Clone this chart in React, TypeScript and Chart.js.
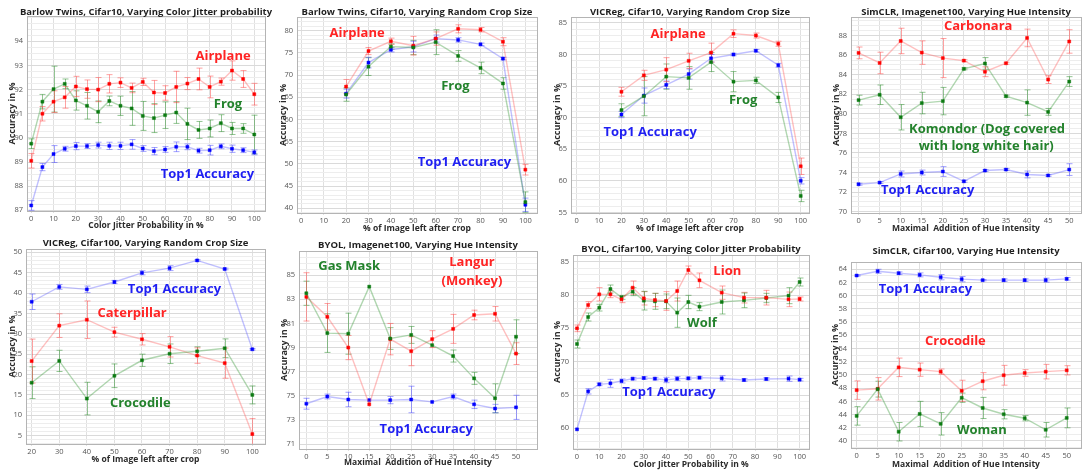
import React, { useEffect, useRef } from 'react';
import { Chart, registerables } from 'chart.js';

Chart.register(...registerables);

// ---------- Barlow Twins, Cifar10, colour jitter probability ----------
const btJitterX = [0, 5, 10, 15, 20, 25, 30, 35, 40, 45, 50, 55, 60, 65, 70, 75, 80, 85, 90, 95, 100];
const btJitterAirplane = [89.05, 91.0, 91.5, 91.68, 92.13, 92.02, 92.0, 92.24, 92.29, 92.07, 92.32, 91.88, 91.86, 92.11, 92.25, 92.44, 92.11, 92.33, 92.79, 92.44, 91.81];
const btJitterAirplaneErr = [0.3, 0.3, 0.45, 0.45, 0.42, 0.38, 0.5, 0.38, 0.2, 0.2, 0.15, 0.5, 0.3, 0.65, 0.25, 0.45, 0.45, 0.15, 0.4, 0.35, 0.45];
const btJitterFrog = [89.76, 91.5, 92.02, 92.24, 91.55, 91.33, 91.08, 91.53, 91.33, 91.22, 90.91, 90.82, 90.94, 91.05, 90.58, 90.33, 90.39, 90.61, 90.39, 90.39, 90.14];
const btJitterFrogErr = [0.2, 0.3, 0.95, 0.2, 0.4, 0.55, 0.45, 0.2, 0.4, 0.7, 0.6, 0.6, 0.55, 0.45, 0.65, 0.35, 0.35, 0.35, 0.25, 0.2, 0.8];
const btJitterTop1 = [87.2, 88.79, 89.33, 89.55, 89.66, 89.66, 89.7, 89.67, 89.67, 89.73, 89.56, 89.45, 89.52, 89.63, 89.63, 89.47, 89.49, 89.65, 89.55, 89.49, 89.4];
const btJitterTop1Err = [0.2, 0.15, 0.35, 0.1, 0.15, 0.1, 0.12, 0.15, 0.15, 0.2, 0.12, 0.15, 0.12, 0.2, 0.12, 0.1, 0.2, 0.1, 0.15, 0.1, 0.1];
const btJitterXTicks = [0, 10, 20, 30, 40, 50, 60, 70, 80, 90, 100];
const btJitterYTicks = [87, 88, 89, 90, 91, 92, 93, 94];

// ---------- Barlow Twins, Cifar10, random crop size ----------
const btCropX = [20, 30, 40, 50, 60, 70, 80, 90, 100];
const btCropAirplane = [67.4, 75.4, 77.6, 76.6, 78.2, 80.4, 80.2, 77.5, 48.7];
const btCropAirplaneErr = [1.6, 0.8, 0.7, 2.1, 1.5, 0.9, 0.5, 0.9, 1.2];
const btCropFrog = [65.6, 71.9, 76.4, 76.2, 77.4, 74.3, 71.6, 68.1, 41.4];
const btCropFrogErr = [1.5, 2.0, 0.6, 1.6, 2.8, 1.2, 1.3, 1.3, 2.3];
const btCropTop1 = [65.8, 72.8, 75.7, 76.4, 78.2, 77.9, 76.9, 73.7, 40.8];
const btCropTop1Err = [1.0, 1.2, 0.5, 1.2, 0.8, 0.5, 0.3, 0.3, 1.5];
const btCropXTicks = [0, 10, 20, 30, 40, 50, 60, 70, 80, 90, 100];
const btCropYTicks = [40, 45, 50, 55, 60, 65, 70, 75, 80];

// ---------- VICReg, Cifar10, random crop size ----------
const vicCropX = [20, 30, 40, 50, 60, 70, 80, 90, 100];
const vicCropAirplane = [74.1, 76.7, 77.6, 79.0, 80.3, 83.3, 83.0, 81.7, 62.3];
const vicCropAirplaneErr = [0.7, 0.8, 1.9, 1.2, 1.5, 0.6, 0.4, 0.4, 1.3];
const vicCropFrog = [71.2, 73.4, 76.5, 76.3, 78.8, 75.7, 75.9, 73.2, 57.6];
const vicCropFrogErr = [1.0, 3.1, 2.0, 1.8, 1.5, 1.6, 0.5, 0.8, 0.9];
const vicCropTop1 = [70.5, 73.5, 75.2, 76.9, 79.4, 80.0, 80.6, 78.3, 60.0];
const vicCropTop1Err = [0.5, 1.2, 0.6, 0.8, 0.6, 0.2, 0.2, 0.3, 0.5];
const vicCropXTicks = [0, 10, 20, 30, 40, 50, 60, 70, 80, 90, 100];
const vicCropYTicks = [55, 60, 65, 70, 75, 80, 85];

// ---------- SimCLR, Imagenet100, hue intensity ----------
const simHueX = [0, 5, 10, 15, 20, 25, 30, 35, 40, 45, 50];
const simHueCarbonara = [86.23, 85.2, 87.45, 86.26, 85.7, 85.44, 84.3, 85.17, 87.76, 83.5, 87.4];
const simHueCarbonaraErr = [0.6, 1.1, 1.3, 1.2, 2.0, 0.1, 0.5, 0.1, 0.9, 0.4, 1.2];
const simHueKomondor = [81.4, 81.95, 79.65, 81.1, 81.3, 84.6, 85.15, 81.8, 81.15, 80.2, 83.3];
const simHueKomondorErr = [0.5, 1.0, 1.3, 1.1, 1.4, 0.1, 0.6, 0.1, 1.3, 0.35, 0.5];
const simHueTop1 = [72.8, 72.97, 73.85, 74.0, 74.1, 73.1, 74.2, 74.3, 73.8, 73.7, 74.3];
const simHueTop1Err = [0.1, 0.1, 0.3, 0.25, 0.5, 0.1, 0.1, 0.1, 0.35, 0.1, 0.6];
const simHueXTicks = [0, 5, 10, 15, 20, 25, 30, 35, 40, 45, 50];
const simHueYTicks = [70, 72, 74, 76, 78, 80, 82, 84, 86, 88];

// ---------- VICReg, Cifar100, random crop size ----------
const vic100CropX = [20, 30, 40, 50, 60, 70, 80, 90, 100];
const vic100CropTop1 = [37.86, 41.5, 40.9, 42.7, 44.95, 46.1, 48.0, 45.9, 26.2];
const vic100CropTop1Err = [1.9, 0.6, 0.8, 0.4, 0.5, 0.6, 0.2, 0.2, 0.2];
const vic100CropCaterpillar = [23.3, 32.0, 33.45, 30.4, 28.65, 26.8, 24.65, 22.8, 5.4];
const vic100CropCaterpillarErr = [5.4, 2.9, 4.6, 1.2, 1.4, 2.5, 1.9, 3.7, 3.8];
const vic100CropCrocodile = [18.0, 23.35, 14.1, 19.7, 23.5, 25.1, 25.7, 26.45, 15.0];
const vic100CropCrocodileErr = [3.9, 2.6, 4.0, 2.9, 1.5, 2.4, 1.1, 2.3, 2.2];
const vic100CropXTicks = [20, 30, 40, 50, 60, 70, 80, 90, 100];
const vic100CropYTicks = [5, 10, 15, 20, 25, 30, 35, 40, 45, 50];

// ---------- BYOL, Imagenet100, hue intensity ----------
const byolHueX = [0, 5, 10, 15, 20, 25, 30, 35, 40, 45, 50];
const byolHueGasMask = [83.5, 80.2, 80.15, 84.05, 79.75, 80.05, 79.2, 78.3, 76.45, 74.8, 79.9];
const byolHueGasMaskErr = [1.0, 1.6, 1.7, 0.0, 0.9, 0.7, 0.0, 0.5, 0.5, 1.2, 1.4];
const byolHueLangur = [83.2, 81.55, 79.0, 74.3, 79.7, 78.7, 79.7, 80.55, 81.7, 81.8, 78.5];
const byolHueLangurErr = [2.0, 1.1, 1.0, 0.0, 1.3, 1.2, 0.7, 1.2, 0.4, 0.6, 0.9];
const byolHueTop1 = [74.35, 74.95, 74.7, 74.65, 74.65, 74.7, 74.5, 74.95, 74.3, 73.95, 74.05];
const byolHueTop1Err = [0.45, 0.2, 0.6, 0.0, 0.3, 1.1, 0.0, 0.2, 0.35, 0.35, 1.0];
const byolHueXTicks = [0, 5, 10, 15, 20, 25, 30, 35, 40, 45, 50];
const byolHueYTicks = [71, 73, 75, 77, 79, 81, 83, 85];

// ---------- BYOL, Cifar100, colour jitter probability ----------
const byolJitterX = [0, 5, 10, 15, 20, 25, 30, 35, 40, 45, 50, 55, 65, 75, 85, 95, 100];
const byolJitterLion = [75.0, 78.5, 80.1, 80.1, 79.35, 81.1, 79.5, 79.25, 79.1, 80.6, 83.75, 82.2, 80.35, 79.6, 79.6, 79.35, 79.4];
const byolJitterLionErr = [0.5, 0.5, 1.0, 0.5, 0.5, 1.0, 1.0, 1.0, 1.4, 1.5, 0.6, 1.1, 1.0, 0.8, 1.1, 1.1, 0.3];
const byolJitterWolf = [72.65, 76.7, 78.1, 80.9, 79.65, 80.5, 79.15, 79.05, 79.05, 77.35, 78.95, 78.25, 78.95, 79.2, 79.55, 79.9, 81.95];
const byolJitterWolfErr = [0.6, 0.6, 0.5, 0.6, 0.3, 0.6, 1.4, 1.2, 1.1, 2.2, 1.0, 0.6, 1.8, 1.1, 0.7, 1.2, 0.6];
const byolJitterTop1 = [59.85, 65.55, 66.6, 66.75, 67.1, 67.45, 67.55, 67.45, 67.25, 67.45, 67.5, 67.6, 67.5, 67.25, 67.4, 67.45, 67.3];
const byolJitterTop1Err = [0.0, 0.4, 0.2, 0.6, 0.3, 0.2, 0.2, 0.2, 0.4, 0.3, 0.2, 0.2, 0.4, 0.2, 0.2, 0.4, 0.2];
const byolJitterXTicks = [0, 10, 20, 30, 40, 50, 60, 70, 80, 90, 100];
const byolJitterYTicks = [60, 65, 70, 75, 80, 85];

// ---------- SimCLR, Cifar100, hue intensity ----------
const sim100HueX = [0, 5, 10, 15, 20, 25, 30, 35, 40, 45, 50];
const sim100HueTop1 = [65.05, 65.7, 65.4, 65.15, 64.8, 64.5, 64.35, 64.35, 64.35, 64.35, 64.55];
const sim100HueTop1Err = [0.1, 0.3, 0.2, 0.3, 0.4, 0.4, 0.1, 0.2, 0.2, 0.3, 0.2];
const sim100HueCrocodile = [47.7, 47.9, 51.15, 50.8, 50.5, 47.6, 49.05, 49.95, 50.3, 50.5, 50.7];
const sim100HueCrocodileErr = [1.4, 1.7, 1.4, 1.0, 0.4, 1.6, 1.3, 1.5, 0.5, 1.1, 0.7];
const sim100HueWoman = [43.8, 47.85, 41.4, 44.1, 42.6, 46.55, 45.0, 44.05, 43.45, 41.7, 43.5];
const sim100HueWomanErr = [1.4, 1.2, 1.4, 1.9, 1.7, 0.7, 1.6, 0.7, 0.4, 1.1, 1.5];
const sim100HueXTicks = [0, 5, 10, 15, 20, 25, 30, 35, 40, 45, 50];
const sim100HueYTicks = [40, 42, 44, 46, 48, 50, 52, 54, 56, 58, 60, 62, 64, 66];
const sim100HueYTickText = ['40', '42', '44', '46', '48', '50', '52', '54', '56', '56', '58', '60', '62', '64'];

// ---------- colours ----------
const RED = { mark: '#ff0000', line: 'rgba(255,90,90,0.38)', bar: 'rgba(255,70,70,0.5)', text: '#ff2424' };
const GREEN = { mark: '#0c7a12', line: 'rgba(50,150,50,0.38)', bar: 'rgba(40,140,40,0.5)', text: '#23822c' };
const BLUE = { mark: '#0000ff', line: 'rgba(90,90,255,0.38)', bar: 'rgba(70,70,255,0.5)', text: '#1f1ff2' };

type Palette = typeof RED;
interface Series { values: number[]; err: number[]; pal: Palette }
interface Note { text: string; x: number; y: number; pal: Palette }
interface Panel {
  title: string;
  xTitle: string;
  xs: number[];
  series: Series[];
  xTicks: number[];
  yTicks: number[];
  yTickText?: string[];
  yMinor: number;
  xMin: number; xMax: number; yMin: number; yMax: number;
  left: number; top: number; bottom: number;
  titleY: number; yTitleX: number; xTitleY: number;
  notes: Note[];
}

const ACC = 'Accuracy in %';

const panels: Panel[] = [
  {
    title: 'Barlow Twins, Cifar10, Varying Color Jitter probability', xTitle: 'Color Jitter Probability in %',
    xs: btJitterX,
    series: [
      { values: btJitterFrog, err: btJitterFrogErr, pal: GREEN },
      { values: btJitterAirplane, err: btJitterAirplaneErr, pal: RED },
      { values: btJitterTop1, err: btJitterTop1Err, pal: BLUE },
    ],
    xTicks: btJitterXTicks, yTicks: btJitterYTicks, yMinor: 0.25,
    xMin: -1.9, xMax: 104.8, yMin: 86.97, yMax: 95.05,
    left: 27, top: 16, bottom: 211, titleY: 12, yTitleX: 12, xTitleY: 226,
    notes: [
      { text: 'Airplane', x: 86, y: 93.4, pal: RED },
      { text: 'Frog', x: 88.2, y: 91.4, pal: GREEN },
      { text: 'Top1 Accuracy', x: 79, y: 88.5, pal: BLUE },
    ],
  },
  {
    title: 'Barlow Twins, Cifar10, Varying Random Crop Size', xTitle: '% of Image left after crop',
    xs: btCropX,
    series: [
      { values: btCropFrog, err: btCropFrogErr, pal: GREEN },
      { values: btCropAirplane, err: btCropAirplaneErr, pal: RED },
      { values: btCropTop1, err: btCropTop1Err, pal: BLUE },
    ],
    xTicks: btCropXTicks, yTicks: btCropYTicks, yMinor: 1,
    xMin: -1.9, xMax: 105.2, yMin: 38.95, yMax: 83.06,
    left: 25, top: 17, bottom: 213, titleY: 12.5, yTitleX: 11, xTitleY: 229,
    notes: [
      { text: 'Airplane', x: 24.9, y: 79.3, pal: RED },
      { text: 'Frog', x: 68.8, y: 67.5, pal: GREEN },
      { text: 'Top1 Accuracy', x: 72.8, y: 50.4, pal: BLUE },
    ],
  },
  {
    title: 'VICReg, Cifar10, Varying Random Crop Size', xTitle: '% of Image left after crop',
    xs: vicCropX,
    series: [
      { values: vicCropFrog, err: vicCropFrogErr, pal: GREEN },
      { values: vicCropTop1, err: vicCropTop1Err, pal: BLUE },
      { values: vicCropAirplane, err: vicCropAirplaneErr, pal: RED },
    ],
    xTicks: vicCropXTicks, yTicks: vicCropYTicks, yMinor: 1,
    xMin: -2.5, xMax: 103.7, yMin: 54.9, yMax: 85.94,
    left: 27, top: 17, bottom: 213, titleY: 12.5, yTitleX: 13, xTitleY: 229,
    notes: [
      { text: 'Airplane', x: 45.3, y: 83.2, pal: RED },
      { text: 'Frog', x: 74.3, y: 72.7, pal: GREEN },
      { text: 'Top1 Accuracy', x: 32.8, y: 67.75, pal: BLUE },
    ],
  },
  {
    title: 'SimCLR, Imagenet100, Varying Hue Intensity', xTitle: 'Maximal  Addition of Hue Intensity',
    xs: simHueX,
    series: [
      { values: simHueKomondor, err: simHueKomondorErr, pal: GREEN },
      { values: simHueCarbonara, err: simHueCarbonaraErr, pal: RED },
      { values: simHueTop1, err: simHueTop1Err, pal: BLUE },
    ],
    xTicks: simHueXTicks, yTicks: simHueYTicks, yMinor: 0.5,
    xMin: -1.8, xMax: 52.8, yMin: 69.86, yMax: 89.9,
    left: 35, top: 17, bottom: 213, titleY: 12, yTitleX: 20, xTitleY: 229,
    notes: [
      { text: 'Carbonara', x: 28.4, y: 89.0, pal: RED },
      { text: 'Komondor (Dog covered', x: 30.5, y: 78.45, pal: GREEN },
      { text: 'with long white hair)', x: 30.3, y: 76.65, pal: GREEN },
      { text: 'Top1 Accuracy', x: 16.4, y: 72.2, pal: BLUE },
    ],
  },
  {
    title: 'VICReg, Cifar100, Varying Random Crop Size', xTitle: '% of Image left after crop',
    xs: vic100CropX,
    series: [
      { values: vic100CropCrocodile, err: vic100CropCrocodileErr, pal: GREEN },
      { values: vic100CropCaterpillar, err: vic100CropCaterpillarErr, pal: RED },
      { values: vic100CropTop1, err: vic100CropTop1Err, pal: BLUE },
    ],
    xTicks: vic100CropXTicks, yTicks: vic100CropYTicks, yMinor: 1,
    xMin: 17.95, xMax: 104.6, yMin: 2.96, yMax: 50.8,
    left: 26, top: 13, bottom: 208, titleY: 7.5, yTitleX: 12, xTitleY: 224,
    notes: [
      { text: 'Top1 Accuracy', x: 71.8, y: 40.9, pal: BLUE },
      { text: 'Caterpillar', x: 56.4, y: 35.0, pal: RED },
      { text: 'Crocodile', x: 59.4, y: 13.0, pal: GREEN },
    ],
  },
  {
    title: 'BYOL, Imagenet100, Varying Hue Intensity', xTitle: 'Maximal  Addition of Hue Intensity',
    xs: byolHueX,
    series: [
      { values: byolHueGasMask, err: byolHueGasMaskErr, pal: GREEN },
      { values: byolHueLangur, err: byolHueLangurErr, pal: RED },
      { values: byolHueTop1, err: byolHueTop1Err, pal: BLUE },
    ],
    xTicks: byolHueXTicks, yTicks: byolHueYTicks, yMinor: 0.5,
    xMin: -1.75, xMax: 55, yMin: 70.6, yMax: 87.0,
    left: 27, top: 15, bottom: 213, titleY: 9, yTitleX: 12, xTitleY: 227,
    notes: [
      { text: 'Gas Mask', x: 10.2, y: 85.7, pal: GREEN },
      { text: 'Langur', x: 39.5, y: 86.05, pal: RED },
      { text: '(Monkey)', x: 39.5, y: 84.5, pal: RED },
      { text: 'Top1 Accuracy', x: 28.6, y: 72.2, pal: BLUE },
    ],
  },
  {
    title: 'BYOL, Cifar100, Varying Color Jitter Probability', xTitle: 'Color Jitter Probability in %',
    xs: byolJitterX,
    series: [
      { values: byolJitterLion, err: byolJitterLionErr, pal: RED },
      { values: byolJitterWolf, err: byolJitterWolfErr, pal: GREEN },
      { values: byolJitterTop1, err: byolJitterTop1Err, pal: BLUE },
    ],
    xTicks: byolJitterXTicks, yTicks: byolJitterYTicks, yMinor: 1,
    xMin: -1.8, xMax: 104.2, yMin: 56.9, yMax: 86.0,
    left: 29, top: 19, bottom: 213, titleY: 13.5, yTitleX: 13, xTitleY: 229,
    notes: [
      { text: 'Lion', x: 67.5, y: 83.55, pal: RED },
      { text: 'Wolf', x: 56.1, y: 75.8, pal: GREEN },
      { text: 'Top1 Accuracy', x: 41.3, y: 65.4, pal: BLUE },
    ],
  },
  {
    title: 'SimCLR, Cifar100, Varying Hue Intensity', xTitle: 'Maximal  Addition of Hue Intensity',
    xs: sim100HueX,
    series: [
      { values: sim100HueWoman, err: sim100HueWomanErr, pal: GREEN },
      { values: sim100HueCrocodile, err: sim100HueCrocodileErr, pal: RED },
      { values: sim100HueTop1, err: sim100HueTop1Err, pal: BLUE },
    ],
    xTicks: sim100HueXTicks, yTicks: sim100HueYTicks, yTickText: sim100HueYTickText, yMinor: 1,
    xMin: -1.35, xMax: 53.4, yMin: 38.94, yMax: 67.1,
    left: 35, top: 26, bottom: 212, titleY: 15, yTitleX: 19, xTitleY: 229,
    notes: [
      { text: 'Top1 Accuracy', x: 16.35, y: 62.9, pal: BLUE },
      { text: 'Crocodile', x: 23.5, y: 55.1, pal: RED },
      { text: 'Woman', x: 29.8, y: 41.6, pal: GREEN },
    ],
  },
];

const FONT = "'Open Sans', 'DejaVu Sans', sans-serif";
const LABEL_FONT = 7.5;
const AXIS_TITLE_FONT = 8.5;
const TITLE_FONT = 9.5;

// error bars with caps, drawn beneath the markers
const errorBars = {
  id: 'errorBars',
  beforeDatasetsDraw(chart: any) {
    const { ctx, chartArea } = chart;
    const yScale = chart.scales.y;
    ctx.save();
    ctx.beginPath();
    ctx.rect(chartArea.left, chartArea.top, chartArea.right - chartArea.left, chartArea.bottom - chartArea.top);
    ctx.clip();
    chart.data.datasets.forEach((ds: any, i: number) => {
      const meta = chart.getDatasetMeta(i);
      ctx.strokeStyle = ds.errorColor;
      ctx.lineWidth = 1;
      meta.data.forEach((pt: any, j: number) => {
        const v = ds.data[j].y;
        const e = ds.errors[j];
        if (!e) return;
        const x = Math.round(pt.x) + 0.5;
        const y1 = yScale.getPixelForValue(v + e);
        const y2 = yScale.getPixelForValue(v - e);
        ctx.beginPath();
        ctx.moveTo(x, y1);
        ctx.lineTo(x, y2);
        ctx.moveTo(x - 3, y1);
        ctx.lineTo(x + 3, y1);
        ctx.moveTo(x - 3, y2);
        ctx.lineTo(x + 3, y2);
        ctx.stroke();
      });
    });
    ctx.restore();
  },
};

// frame, title and coloured series names
const decorations = {
  id: 'decorations',
  beforeDatasetsDraw(chart: any) {
    const { ctx, chartArea } = chart;
    ctx.save();
    ctx.strokeStyle = '#b4b4b4';
    ctx.lineWidth = 1;
    ctx.strokeRect(Math.round(chartArea.left) + 0.5, Math.round(chartArea.top) + 0.5,
      Math.round(chartArea.right - chartArea.left), Math.round(chartArea.bottom - chartArea.top));
    ctx.restore();
  },
  afterDraw(chart: any) {
    const { ctx, chartArea } = chart;
    const p: Panel = chart.options.plugins.decorations.panel;
    ctx.save();
    ctx.fillStyle = '#1e1e1e';
    ctx.font = `bold ${TITLE_FONT}px ${FONT}`;
    ctx.textAlign = 'center';
    ctx.textBaseline = 'middle';
    ctx.fillText(p.title, (chartArea.left + chartArea.right) / 2, p.titleY);
    ctx.font = `bold 13px ${FONT}`;
    p.notes.forEach((n) => {
      ctx.fillStyle = n.pal.text;
      ctx.fillText(n.text, chart.scales.x.getPixelForValue(n.x), chart.scales.y.getPixelForValue(n.y));
    });
    ctx.restore();
  },
};

function buildMinorTicks(p: Panel): number[] {
  const out: number[] = [];
  const start = Math.ceil(p.yMin / p.yMinor) * p.yMinor;
  for (let v = start; v <= p.yMax + 1e-9; v += p.yMinor) out.push(Math.round(v * 1000) / 1000);
  return out;
}

function PanelChart({ p, w, h }: { p: Panel; w: number; h: number }) {
  const ref = useRef<HTMLCanvasElement>(null);
  useEffect(() => {
    const yValues = buildMinorTicks(p);
    const isMajor = (v: number) => p.yTicks.some((t) => Math.abs(t - v) < 1e-6);
    const chart = new Chart(ref.current!, {
      type: 'line',
      data: {
        datasets: p.series.map((s) => ({
          data: p.xs.map((x, i) => ({ x, y: s.values[i] })),
          errors: s.err,
          errorColor: s.pal.bar,
          borderColor: s.pal.line,
          borderWidth: 1.4,
          pointStyle: 'rect',
          pointRadius: 2.1,
          pointBackgroundColor: s.pal.mark,
          pointBorderColor: s.pal.mark,
          pointBorderWidth: 0.5,
          tension: 0,
        })) as any,
      },
      options: {
        animation: false,
        responsive: false,
        devicePixelRatio: 1,
        layout: { padding: { left: 0, right: w - 265, top: p.top, bottom: 0 } },
        plugins: {
          legend: { display: false },
          tooltip: { enabled: false },
          decorations: { panel: p },
        } as any,
        scales: {
          x: {
            type: 'linear',
            min: p.xMin,
            max: p.xMax,
            bounds: 'data',
            afterBuildTicks: (s: any) => { s.ticks = p.xTicks.map((v) => ({ value: v })); },
            afterFit: (s: any) => { s.height = h - p.bottom; },
            ticks: {
              autoSkip: false, maxRotation: 0, padding: 1, color: '#555555',
              font: { family: FONT, size: LABEL_FONT },
              callback: (v: any) => String(v),
            },
            grid: { color: '#e0e0e0', lineWidth: 1, drawTicks: true, tickLength: 2 },
            border: { display: false },
            title: {
              display: true, text: p.xTitle, color: '#2b2b2b',
              font: { family: FONT, size: AXIS_TITLE_FONT, weight: 'bold' },
              padding: { top: 0, bottom: h - p.xTitleY - 5.1 },
            },
          },
          y: {
            type: 'linear',
            min: p.yMin,
            max: p.yMax,
            bounds: 'data',
            afterBuildTicks: (s: any) => { s.ticks = yValues.map((v) => ({ value: v })); },
            afterFit: (s: any) => { s.width = p.left; },
            ticks: {
              autoSkip: false, padding: 4, color: '#555555',
              font: { family: FONT, size: LABEL_FONT },
              callback: (v: any) => {
                const idx = p.yTicks.findIndex((t) => Math.abs(t - v) < 1e-6);
                if (idx < 0) return '';
                return p.yTickText ? p.yTickText[idx] : String(p.yTicks[idx]);
              },
            },
            grid: {
              drawTicks: false,
              color: (c: any) => (isMajor(c.tick.value) ? '#dadada' : '#ededed'),
              lineWidth: 1,
            },
            border: { display: false },
            title: {
              display: true, text: ACC, color: '#2b2b2b',
              font: { family: FONT, size: 9, weight: 'bold' },
              padding: { top: p.yTitleX - 5.4, bottom: 0 },
            },
          },
        },
      } as any,
      plugins: [errorBars, decorations],
    });
    return () => chart.destroy();
  }, [p, w, h]);
  return <canvas ref={ref} width={w} height={h} style={{ display: 'block', width: w, height: h }} />;
}

export default function App() {
  const widths = [272, 272, 272, 273];
  return (
    <div style={{ position: 'absolute', left: 0, top: 0, width: 1089, height: 472, background: '#fff',
      display: 'grid', gridTemplateColumns: widths.map((w) => `${w}px`).join(' '), gridTemplateRows: '236px 236px' }}>
      {panels.map((p, i) => (
        <PanelChart key={i} p={p} w={widths[i % 4]} h={236} />
      ))}
    </div>
  );
}
